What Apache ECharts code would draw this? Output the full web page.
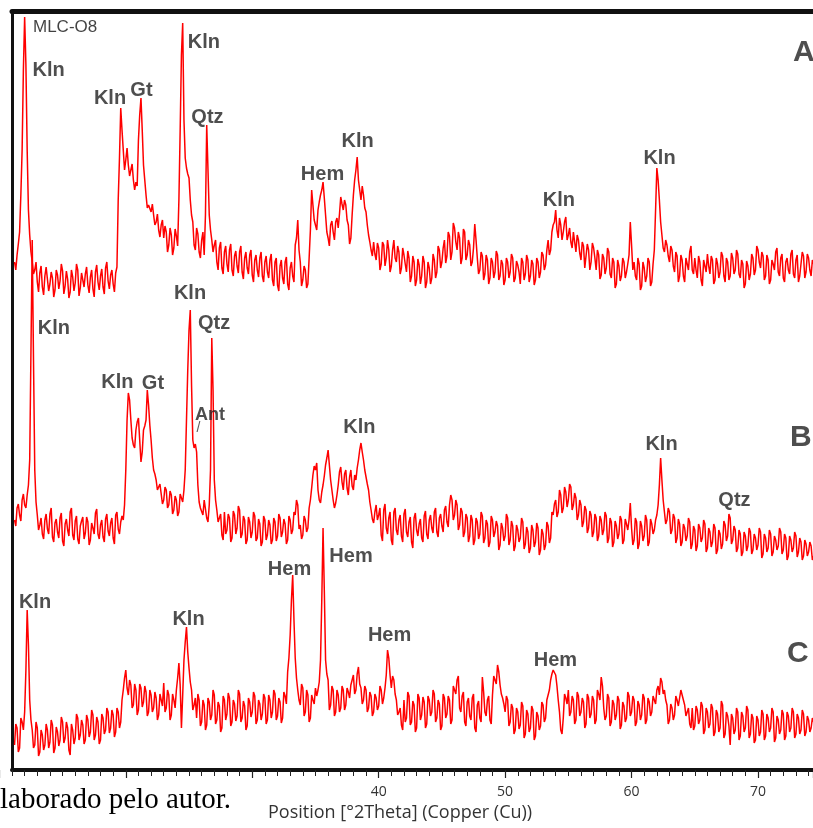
<!DOCTYPE html>
<html>
<head>
<meta charset="utf-8">
<script src="https://cdn.jsdelivr.net/npm/echarts@6/dist/echarts.min.js"></script>
<style>
  html, body { margin: 0; padding: 0; background: #ffffff; }
  #chart { width: 813px; height: 828px; }
</style>
</head>
<body>
<div id="chart"></div>
<script>
// Scan positions, degrees 2-theta (Cu K-alpha), shared by the three patterns.
const twoTheta = [
  11.2, 11.4, 11.6, 11.8,
  12, 12.2, 12.4, 12.6, 12.8,
  13, 13.2, 13.4, 13.6, 13.8,
  14, 14.2, 14.4, 14.6, 14.8,
  15, 15.2, 15.4, 15.6, 15.8,
  16, 16.2, 16.4, 16.6, 16.8,
  17, 17.2, 17.4, 17.6, 17.8,
  18, 18.2, 18.4, 18.6, 18.8,
  19, 19.2, 19.4, 19.6, 19.8,
  20, 20.2, 20.4, 20.6, 20.8,
  21, 21.2, 21.4, 21.6, 21.8,
  22, 22.2, 22.4, 22.6, 22.8,
  23, 23.2, 23.4, 23.6, 23.8,
  24, 24.2, 24.4, 24.6, 24.8,
  25, 25.2, 25.4, 25.6, 25.8,
  26, 26.2, 26.4, 26.6, 26.8,
  27, 27.2, 27.4, 27.6, 27.8,
  28, 28.2, 28.4, 28.6, 28.8,
  29, 29.2, 29.4, 29.6, 29.8,
  30, 30.2, 30.4, 30.6, 30.8,
  31, 31.2, 31.4, 31.6, 31.8,
  32, 32.2, 32.4, 32.6, 32.8,
  33, 33.2, 33.4, 33.6, 33.8,
  34, 34.2, 34.4, 34.6, 34.8,
  35, 35.2, 35.4, 35.6, 35.8,
  36, 36.2, 36.4, 36.6, 36.8,
  37, 37.2, 37.4, 37.6, 37.8,
  38, 38.2, 38.4, 38.6, 38.8,
  39, 39.2, 39.4, 39.6, 39.8,
  40, 40.2, 40.4, 40.6, 40.8,
  41, 41.2, 41.4, 41.6, 41.8,
  42, 42.2, 42.4, 42.6, 42.8,
  43, 43.2, 43.4, 43.6, 43.8,
  44, 44.2, 44.4, 44.6, 44.8,
  45, 45.2, 45.4, 45.6, 45.8,
  46, 46.2, 46.4, 46.6, 46.8,
  47, 47.2, 47.4, 47.6, 47.8,
  48, 48.2, 48.4, 48.6, 48.8,
  49, 49.2, 49.4, 49.6, 49.8,
  50, 50.2, 50.4, 50.6, 50.8,
  51, 51.2, 51.4, 51.6, 51.8,
  52, 52.2, 52.4, 52.6, 52.8,
  53, 53.2, 53.4, 53.6, 53.8,
  54, 54.2, 54.4, 54.6, 54.8,
  55, 55.2, 55.4, 55.6, 55.8,
  56, 56.2, 56.4, 56.6, 56.8,
  57, 57.2, 57.4, 57.6, 57.8,
  58, 58.2, 58.4, 58.6, 58.8,
  59, 59.2, 59.4, 59.6, 59.8,
  60, 60.2, 60.4, 60.6, 60.8,
  61, 61.2, 61.4, 61.6, 61.8,
  62, 62.2, 62.4, 62.6, 62.8,
  63, 63.2, 63.4, 63.6, 63.8,
  64, 64.2, 64.4, 64.6, 64.8,
  65, 65.2, 65.4, 65.6, 65.8,
  66, 66.2, 66.4, 66.6, 66.8,
  67, 67.2, 67.4, 67.6, 67.8,
  68, 68.2, 68.4, 68.6, 68.8,
  69, 69.2, 69.4, 69.6, 69.8,
  70, 70.2, 70.4, 70.6, 70.8,
  71, 71.2, 71.4, 71.6, 71.8,
  72, 72.2, 72.4, 72.6, 72.8,
  73, 73.2, 73.4, 73.6, 73.8,
  74, 74.2, 74.4
];

// Intermediate scan positions, half a step between the ones above.
const twoThetaMid = [
  11.3, 11.5, 11.7, 11.9,
  12.1, 12.3, 12.5, 12.7, 12.9,
  13.1, 13.3, 13.5, 13.7, 13.9,
  14.1, 14.3, 14.5, 14.7, 14.9,
  15.1, 15.3, 15.5, 15.7, 15.9,
  16.1, 16.3, 16.5, 16.7, 16.9,
  17.1, 17.3, 17.5, 17.7, 17.9,
  18.1, 18.3, 18.5, 18.7, 18.9,
  19.1, 19.3, 19.5, 19.7, 19.9,
  20.1, 20.3, 20.5, 20.7, 20.9,
  21.1, 21.3, 21.5, 21.7, 21.9,
  22.1, 22.3, 22.5, 22.7, 22.9,
  23.1, 23.3, 23.5, 23.7, 23.9,
  24.1, 24.3, 24.5, 24.7, 24.9,
  25.1, 25.3, 25.5, 25.7, 25.9,
  26.1, 26.3, 26.5, 26.7, 26.9,
  27.1, 27.3, 27.5, 27.7, 27.9,
  28.1, 28.3, 28.5, 28.7, 28.9,
  29.1, 29.3, 29.5, 29.7, 29.9,
  30.1, 30.3, 30.5, 30.7, 30.9,
  31.1, 31.3, 31.5, 31.7, 31.9,
  32.1, 32.3, 32.5, 32.7, 32.9,
  33.1, 33.3, 33.5, 33.7, 33.9,
  34.1, 34.3, 34.5, 34.7, 34.9,
  35.1, 35.3, 35.5, 35.7, 35.9,
  36.1, 36.3, 36.5, 36.7, 36.9,
  37.1, 37.3, 37.5, 37.7, 37.9,
  38.1, 38.3, 38.5, 38.7, 38.9,
  39.1, 39.3, 39.5, 39.7, 39.9,
  40.1, 40.3, 40.5, 40.7, 40.9,
  41.1, 41.3, 41.5, 41.7, 41.9,
  42.1, 42.3, 42.5, 42.7, 42.9,
  43.1, 43.3, 43.5, 43.7, 43.9,
  44.1, 44.3, 44.5, 44.7, 44.9,
  45.1, 45.3, 45.5, 45.7, 45.9,
  46.1, 46.3, 46.5, 46.7, 46.9,
  47.1, 47.3, 47.5, 47.7, 47.9,
  48.1, 48.3, 48.5, 48.7, 48.9,
  49.1, 49.3, 49.5, 49.7, 49.9,
  50.1, 50.3, 50.5, 50.7, 50.9,
  51.1, 51.3, 51.5, 51.7, 51.9,
  52.1, 52.3, 52.5, 52.7, 52.9,
  53.1, 53.3, 53.5, 53.7, 53.9,
  54.1, 54.3, 54.5, 54.7, 54.9,
  55.1, 55.3, 55.5, 55.7, 55.9,
  56.1, 56.3, 56.5, 56.7, 56.9,
  57.1, 57.3, 57.5, 57.7, 57.9,
  58.1, 58.3, 58.5, 58.7, 58.9,
  59.1, 59.3, 59.5, 59.7, 59.9,
  60.1, 60.3, 60.5, 60.7, 60.9,
  61.1, 61.3, 61.5, 61.7, 61.9,
  62.1, 62.3, 62.5, 62.7, 62.9,
  63.1, 63.3, 63.5, 63.7, 63.9,
  64.1, 64.3, 64.5, 64.7, 64.9,
  65.1, 65.3, 65.5, 65.7, 65.9,
  66.1, 66.3, 66.5, 66.7, 66.9,
  67.1, 67.3, 67.5, 67.7, 67.9,
  68.1, 68.3, 68.5, 68.7, 68.9,
  69.1, 69.3, 69.5, 69.7, 69.9,
  70.1, 70.3, 70.5, 70.7, 70.9,
  71.1, 71.3, 71.5, 71.7, 71.9,
  72.1, 72.3, 72.5, 72.7, 72.9,
  73.1, 73.3, 73.5, 73.7, 73.9,
  74.1, 74.3
];

// Stacked intensities (arbitrary units, offset per pattern). Pattern A (top).
const traceA = [
  508, 515, 538, 620,
  753, 620, 535, 508, 500,
  488, 497, 483, 494, 501,
  486, 492, 480, 495, 489,
  499, 484, 491, 478, 493,
  487, 500, 482, 490, 496,
  485, 493, 481, 498, 488,
  494, 483, 502, 489, 495,
  486, 497, 570, 662, 620,
  610, 605, 595, 590, 588,
  630, 672, 605, 575, 565,
  558, 555, 548, 540, 545,
  532, 538, 525, 535, 522,
  534, 570, 715, 650, 602,
  592, 555, 525, 542, 518,
  530, 515, 645, 555, 530,
  525, 508, 522, 502, 518,
  506, 520, 500, 514, 504,
  518, 498, 512, 502, 515,
  495, 510, 500, 512, 494,
  508, 498, 510, 490, 508,
  485, 504, 492, 508, 486,
  502, 494, 525, 550, 508,
  490, 500, 486, 540, 565,
  545, 560, 575, 588, 555,
  532, 545, 538, 548, 542,
  573, 560, 565, 545, 532,
  575, 600, 590, 570, 575,
  558, 535, 520, 528, 510,
  522, 506, 525, 512, 520,
  504, 530, 508, 518, 502,
  515, 498, 512, 494, 508,
  490, 505, 494, 508, 488,
  502, 492, 510, 498, 520,
  508, 530, 514, 534, 518,
  542, 520, 532, 512, 538,
  515, 525, 508, 546, 512,
  500, 514, 496, 510, 492,
  508, 498, 515, 494, 506,
  490, 508, 498, 512, 492,
  505, 486, 508, 496, 510,
  494, 506, 490, 508, 498,
  515, 505, 530, 520, 545,
  560, 532, 545, 538, 553,
  535, 528, 538, 518, 530,
  510, 524, 504, 520, 508,
  522, 500, 515, 495, 512,
  502, 518, 492, 508, 486,
  504, 494, 508, 498, 515,
  525, 508, 490, 506, 484,
  502, 494, 508, 488, 520,
  602, 570, 535, 518, 525,
  508, 520, 498, 514, 494,
  510, 488, 506, 518, 500,
  512, 492, 508, 484, 504,
  516, 496, 510, 490, 506,
  498, 514, 488, 508, 494,
  512, 500, 516, 492, 506,
  486, 504, 496, 512, 500,
  520, 502, 514, 494, 510,
  490, 506, 518, 498, 512,
  492, 508, 500, 516, 496,
  510, 488, 506, 514, 498,
  512, 494, 506
];
const traceAMid = [
  500, 526, 575, 700,
  705, 560, 518, 496, 508,
  478, 504, 475, 503, 479,
  498, 473, 500, 481, 506,
  476, 499, 472, 500, 479,
  506, 474, 497, 483, 503,
  477, 500, 473, 505, 480,
  501, 476, 508, 481, 500,
  478, 503, 612, 640, 600,
  622, 594, 606, 580, 584,
  655, 640, 590, 562, 566,
  566, 545, 556, 533, 550,
  544, 518, 542, 515, 541,
  524, 640, 747, 612, 596,
  570, 548, 520, 536, 512,
  538, 555, 600, 540, 518,
  530, 500, 528, 496, 524,
  498, 526, 494, 519, 497,
  524, 491, 518, 496, 520,
  488, 515, 493, 518, 488,
  514, 492, 516, 484, 512,
  479, 510, 486, 513, 480,
  508, 488, 532, 520, 484,
  504, 482, 512, 580, 550,
  540, 568, 580, 572, 538,
  524, 549, 530, 552, 556,
  566, 570, 550, 526, 555,
  590, 613, 580, 584, 562,
  545, 528, 514, 516, 527,
  500, 528, 504, 530, 498,
  520, 512, 524, 496, 522,
  506, 519, 488, 514, 484,
  511, 486, 514, 482, 508,
  486, 516, 492, 524, 502,
  522, 507, 538, 510, 547,
  528, 538, 506, 541, 510,
  530, 504, 522, 530, 496,
  518, 490, 515, 486, 512,
  492, 519, 490, 510, 485,
  512, 492, 516, 488, 509,
  498, 512, 490, 515, 488,
  510, 485, 512, 492, 518,
  500, 520, 515, 538, 548,
  540, 552, 530, 548, 530,
  542, 522, 528, 535, 517,
  528, 502, 526, 500, 527,
  512, 520, 491, 516, 496,
  522, 496, 512, 482, 510,
  489, 512, 492, 506, 548,
  500, 494, 512, 480, 508,
  488, 512, 484, 506, 560,
  590, 548, 522, 530, 514,
  524, 504, 518, 488, 515,
  494, 512, 500, 524, 496,
  500, 514, 490, 510, 498,
  504, 514, 486, 512, 492,
  518, 494, 512, 490, 517,
  496, 520, 496, 510, 482,
  509, 490, 516, 495, 524,
  508, 518, 490, 515, 486,
  510, 500, 522, 494, 516,
  488, 512, 496, 520, 492,
  515, 494, 518, 492, 516,
  500, 510
];

// Pattern B (middle).
const traceB = [
  250, 262, 255, 270,
  265, 275, 310, 530, 300,
  255, 245, 236, 250, 241,
  256, 233, 247, 238, 252,
  229, 246, 240, 258, 235,
  249, 231, 244, 253, 237,
  248, 230, 242, 257, 236,
  245, 233, 251, 239, 247,
  232, 255, 241, 248, 250,
  300, 377, 350, 325, 340,
  352, 308, 340, 350, 365,
  330, 300, 290, 278, 285,
  270, 280, 265, 275, 260,
  270, 258, 272, 280, 350,
  440, 385, 322, 318, 268,
  260, 270, 252, 265, 432,
  290, 260, 250, 235, 258,
  240, 252, 232, 255, 242,
  260, 236, 250, 230, 248,
  238, 254, 232, 246, 228,
  250, 235, 245, 230, 248,
  234, 252, 238, 246, 230,
  250, 240, 255, 265, 245,
  235, 250, 242, 270, 295,
  300, 280, 267, 285, 305,
  320, 290, 270, 267, 285,
  303, 280, 300, 275, 300,
  280, 290, 310, 327, 310,
  293, 280, 260, 247, 265,
  255, 235, 260, 242, 252,
  230, 258, 240, 250, 234,
  256, 238, 248, 228, 252,
  240, 246, 232, 254, 236,
  250, 242, 258, 238, 252,
  244, 260, 248, 265, 270,
  255, 265, 245, 258, 238,
  252, 234, 250, 230, 248,
  236, 254, 232, 246, 228,
  250, 238, 244, 225, 242,
  234, 252, 230, 244, 224,
  240, 232, 248, 226, 238,
  222, 240, 228, 242, 220,
  236, 225, 244, 232, 255,
  270, 258, 275, 262, 278,
  270, 283, 265, 272, 255,
  265, 248, 260, 242, 255,
  238, 252, 234, 250, 240,
  254, 232, 248, 228, 244,
  236, 250, 230, 246, 250,
  242, 230, 248, 226, 244,
  234, 250, 228, 246, 240,
  255, 285, 290, 258, 250,
  258, 240, 252, 232, 246,
  228, 242, 234, 248, 226,
  240, 224, 242, 232, 246,
  222, 238, 228, 242, 220,
  236, 226, 245, 234, 252,
  230, 240, 222, 236, 218,
  234, 224, 238, 220, 232,
  225, 238, 216, 232, 222,
  236, 218, 230, 224, 238,
  220, 232, 214, 230, 222,
  234, 218, 228, 214, 226,
  218, 224, 214
];
const traceBMid = [
  244, 266, 249, 276,
  262, 285, 420, 410, 268,
  240, 252, 231, 256, 236,
  262, 228, 251, 232, 257,
  224, 251, 234, 262, 230,
  254, 226, 249, 231, 253,
  225, 247, 236, 261, 231,
  250, 228, 256, 234, 252,
  226, 258, 236, 254, 265,
  350, 370, 332, 322, 348,
  330, 318, 344, 380, 345,
  312, 296, 280, 286, 266,
  283, 262, 279, 256, 274,
  254, 276, 268, 300, 400,
  460, 330, 326, 285, 262,
  255, 272, 248, 300, 380,
  270, 248, 256, 230, 236,
  256, 228, 259, 236, 264,
  232, 254, 226, 253, 232,
  258, 229, 251, 224, 254,
  230, 250, 226, 252, 229,
  256, 233, 251, 226, 254,
  236, 258, 270, 241, 231,
  254, 238, 262, 282, 304,
  307, 270, 278, 294, 312,
  318, 280, 262, 275, 298,
  288, 296, 282, 293, 284,
  295, 302, 320, 318, 300,
  286, 268, 251, 258, 250,
  262, 229, 266, 236, 258,
  225, 262, 235, 255, 228,
  261, 233, 253, 222, 257,
  234, 251, 228, 259, 231,
  255, 237, 262, 233, 256,
  238, 264, 243, 275, 250,
  270, 240, 262, 233, 256,
  228, 255, 225, 252, 231,
  258, 227, 250, 223, 254,
  233, 249, 220, 247, 229,
  256, 225, 249, 219, 245,
  228, 252, 221, 243, 217,
  245, 223, 247, 215, 241,
  220, 248, 227, 258, 266,
  253, 280, 257, 283, 263,
  286, 260, 277, 250, 270,
  243, 264, 237, 259, 233,
  256, 229, 254, 235, 258,
  227, 252, 223, 249, 231,
  254, 226, 251, 240, 267,
  225, 252, 221, 249, 229,
  255, 224, 251, 236, 250,
  265, 312, 270, 246, 262,
  236, 256, 227, 251, 224,
  246, 229, 252, 221, 244,
  219, 246, 228, 250, 218,
  242, 223, 246, 216, 240,
  221, 249, 229, 256, 226,
  244, 218, 240, 214, 238,
  219, 242, 216, 236, 220,
  242, 212, 236, 218, 240,
  214, 234, 220, 242, 216,
  236, 210, 234, 218, 238,
  213, 232, 210, 230, 214,
  228, 210
];

// Pattern C (bottom).
const traceC = [
  25, 42, 22, 48,
  58, 160, 70, 40, 25,
  42, 18, 35, 25, 40,
  28, 45, 22, 38, 30,
  48, 32, 42, 15, 40,
  32, 52, 35, 45, 30,
  50, 38, 55, 35, 48,
  30, 52, 40, 58, 42,
  55, 38, 58, 48, 80,
  100, 75, 85, 65, 80,
  60, 82, 68, 78, 58,
  75, 62, 72, 55, 70,
  87, 62, 75, 55, 70,
  80, 107, 42, 110, 143,
  102, 80, 65, 52, 70,
  48, 65, 45, 68, 55,
  75, 50, 64, 42, 70,
  56, 72, 48, 66, 54,
  76, 52, 64, 44, 68,
  58, 74, 50, 66, 56,
  72, 50, 70, 58, 76,
  54, 68, 52, 74, 98,
  135, 195, 112, 80, 65,
  82, 58, 75, 52, 70,
  82, 80, 110, 242, 110,
  90, 65, 80, 58, 75,
  62, 80, 65, 78, 85,
  95, 80, 103, 82, 70,
  80, 62, 74, 58, 72,
  64, 80, 72, 95, 112,
  82, 90, 70, 58, 45,
  70, 52, 74, 48, 65,
  42, 72, 55, 68, 46,
  70, 58, 76, 52, 66,
  44, 72, 56, 70, 50,
  80, 90, 62, 74, 48,
  68, 54, 72, 42, 65,
  52, 93, 58, 70, 50,
  75, 90, 105, 85, 72,
  58, 70, 48, 62, 40,
  58, 45, 64, 36, 56,
  42, 60, 34, 54, 44,
  65, 52, 75, 90, 100,
  95, 70, 40, 52, 72,
  80, 58, 70, 50, 74,
  58, 68, 46, 72, 56,
  70, 50, 76, 93, 62,
  54, 72, 48, 66, 55,
  70, 45, 64, 52, 74,
  58, 70, 48, 65, 55,
  72, 50, 68, 58, 70,
  80, 75, 88, 80, 65,
  50, 62, 55, 70, 72,
  78, 65, 58, 46, 62,
  44, 60, 50, 64, 40,
  58, 46, 62, 38, 56,
  42, 65, 36, 54, 25,
  52, 40, 58, 34, 54,
  42, 60, 36, 52, 30,
  50, 38, 56, 34, 52,
  42, 58, 32, 50, 40,
  56, 34, 54, 42, 58,
  36, 52, 40, 56, 38,
  50, 42, 48
];
const traceCMid = [
  46, 18, 52, 40,
  100, 125, 50, 22, 48,
  14, 40, 20, 46, 22,
  50, 17, 43, 24, 53,
  27, 48, 20, 46, 26,
  56, 30, 50, 26, 55,
  33, 60, 30, 53, 26,
  56, 36, 62, 37, 60,
  33, 62, 42, 70, 92,
  82, 90, 62, 86, 55,
  86, 63, 84, 54, 80,
  58, 78, 50, 76, 64,
  58, 80, 50, 76, 62,
  92, 85, 75, 128, 118,
  88, 60, 72, 76, 44,
  70, 40, 72, 50, 80,
  46, 68, 38, 74, 50,
  77, 44, 70, 49, 80,
  48, 69, 40, 72, 53,
  78, 46, 70, 50, 76,
  46, 75, 52, 80, 50,
  72, 47, 78, 66, 112,
  170, 150, 92, 70, 86,
  54, 80, 48, 75, 66,
  74, 88, 170, 180, 96,
  60, 84, 54, 80, 58,
  84, 60, 82, 72, 90,
  76, 96, 86, 66, 84,
  58, 78, 54, 76, 60,
  84, 66, 82, 120, 95,
  94, 76, 55, 62, 40,
  48, 78, 45, 69, 38,
  76, 50, 73, 42, 74,
  54, 80, 48, 70, 40,
  76, 52, 74, 46, 84,
  76, 94, 58, 78, 44,
  72, 50, 76, 38, 69,
  48, 78, 54, 74, 46,
  94, 86, 98, 76, 66,
  74, 44, 66, 36, 62,
  41, 68, 32, 60, 38,
  64, 30, 58, 40, 68,
  48, 70, 80, 96, 102,
  84, 58, 36, 76, 66,
  54, 74, 46, 78, 54,
  72, 42, 76, 52, 74,
  46, 80, 70, 84, 50,
  76, 44, 70, 50, 74,
  41, 68, 48, 78, 54,
  74, 44, 69, 50, 76,
  46, 72, 54, 74, 66,
  84, 92, 76, 70, 46,
  66, 50, 74, 64, 80,
  70, 54, 62, 42, 40,
  64, 46, 68, 36, 62,
  42, 66, 34, 60, 38,
  69, 32, 58, 44, 56,
  36, 62, 30, 58, 38,
  64, 32, 56, 27, 54,
  34, 60, 30, 56, 38,
  62, 28, 54, 36, 60,
  30, 58, 38, 62, 32,
  56, 36, 60, 34, 54,
  38, 52
];

// Phase identifications: [label, 2-theta, stacked intensity of the label anchor].
const phaseLabels = [
  ['Kln', 13.89, 700], ['Kln', 18.75, 672], ['Gt', 21.24, 680],
  ['Kln', 26.18, 728], ['Qtz', 26.46, 653], ['Hem', 35.56, 596],
  ['Kln', 38.33, 629], ['Kln', 54.26, 570], ['Kln', 62.21, 612],
  ['Kln', 14.32, 442], ['Kln', 25.08, 477], ['Qtz', 26.98, 447],
  ['Kln', 19.34, 388], ['Gt', 22.15, 387], ['Kln', 38.48, 343],
  ['Kln', 62.37, 326], ['Qtz', 68.14, 270],
  ['Kln', 12.82, 168], ['Kln', 24.96, 151], ['Hem', 32.95, 201],
  ['Hem', 37.81, 214], ['Hem', 40.86, 135], ['Hem', 53.98, 110]
];
const minorPhaseLabels = [['Ant', 26.66, 355]];
const pointerMarks = [['/', 25.75, 342]];
const patternTags = [['A', 72.77, 717], ['B', 72.53, 332], ['C', 72.29, 116]];
const sampleName = ['MLC-O8', 12.66, 743];

const axisTitle = 'Position [°2Theta] (Copper (Cu))';
const sourceNote = 'laborado pelo autor.';

const traceColor = '#ff0000';
const ink = '#222222';
const sans = '"Liberation Sans", Arial, sans-serif';

// Merge the main and half-step readings into one ordered scan.
function scan(main, mid) {
  return twoTheta.map((t, i) => [t, main[i]])
    .concat(twoThetaMid.map((t, i) => [t, mid[i]]))
    .sort((a, b) => a[0] - b[0]);
}

function tagItems(list, style) {
  return list.map(([text, x, y]) => ({
    value: [x, y],
    label: Object.assign({ show: true, formatter: text, position: [0, 0],
      verticalAlign: 'middle', fontFamily: sans }, style)
  }));
}

const annotations = [].concat(
  tagItems(phaseLabels, { align: 'center', fontSize: 20, fontWeight: 'bold', color: ink }),
  tagItems(minorPhaseLabels, { align: 'center', fontSize: 18, fontWeight: 'bold', color: ink }),
  tagItems(pointerMarks, { align: 'center', fontSize: 14, color: '#333' }),
  tagItems(patternTags, { align: 'left', fontSize: 30, fontWeight: 'bold', color: ink }),
  tagItems([sampleName], { align: 'left', fontSize: 17, color: '#111' })
);

function patternSeries(name, main, mid) {
  return {
    name, type: 'line', xAxisIndex: 0, yAxisIndex: 0,
    data: scan(main, mid), showSymbol: false, symbol: 'none',
    sampling: 'none', silent: true, clip: true,
    lineStyle: { color: traceColor, width: 1.5 }
  };
}

const chart = echarts.init(document.getElementById('chart'), null, { renderer: 'canvas' });

chart.setOption({
  animation: false,
  backgroundColor: '#ffffff',
  grid: [
    { left: 12, right: 0, top: 11, bottom: 58, outerBoundsMode: 'none' },
    { left: -0.644, right: 0, top: 11, bottom: 58, outerBoundsMode: 'none' }
  ],
  xAxis: [
    { // frame bottom with one-degree ticks
      gridIndex: 0, type: 'value', min: 11, max: 74.35, interval: 1, position: 'bottom',
      axisLine: { show: true, onZero: false, lineStyle: { color: '#111', width: 4 } },
      axisTick: { show: true, length: 6, lineStyle: { color: '#222', width: 1 } },
      axisLabel: { show: false }, splitLine: { show: false }
    },
    { // frame top
      gridIndex: 0, type: 'value', min: 11, max: 74.35, position: 'top',
      axisLine: { show: true, onZero: false, lineStyle: { color: '#111', width: 5 } },
      axisTick: { show: false }, axisLabel: { show: false }, splitLine: { show: false }
    },
    { // ten-degree ticks and labels
      gridIndex: 1, type: 'value', min: 10, max: 74.35, interval: 10, position: 'bottom',
      axisLine: { show: false, onZero: false },
      axisTick: { show: true, length: 8, lineStyle: { color: '#222', width: 1.2 } },
      axisLabel: {
        show: true, margin: 15, fontSize: 14, color: '#333',
        fontFamily: '"Open Sans", "Noto Sans", sans-serif',
        formatter: v => (v >= 40 && v % 10 === 0) ? String(v) : ''
      },
      splitLine: { show: false }
    }
  ],
  yAxis: [
    {
      gridIndex: 0, type: 'value', min: 0, max: 759,
      axisLine: { show: true, onZero: false, lineStyle: { color: '#111', width: 3 } },
      axisTick: { show: false }, axisLabel: { show: false }, splitLine: { show: false }
    },
    {
      gridIndex: 1, type: 'value', min: 0, max: 759, show: false
    }
  ],
  series: [
    patternSeries('C', traceC, traceCMid),
    patternSeries('B', traceB, traceBMid),
    patternSeries('A', traceA, traceAMid),
    {
      name: 'labels', type: 'scatter', xAxisIndex: 0, yAxisIndex: 0,
      symbolSize: 0, silent: true, data: annotations, z: 5
    }
  ],
  graphic: [
    {
      type: 'text', x: 268, y: 813, silent: true,
      style: { text: axisTitle, fill: '#333', font: '18px "Open Sans", "Noto Sans", sans-serif', verticalAlign: 'middle' }
    },
    {
      type: 'text', x: 0, y: 800, silent: true,
      style: { text: sourceNote, fill: '#000', font: '29px "Liberation Serif", "DejaVu Serif", serif', verticalAlign: 'middle' }
    }
  ]
});
</script>
</body>
</html>
